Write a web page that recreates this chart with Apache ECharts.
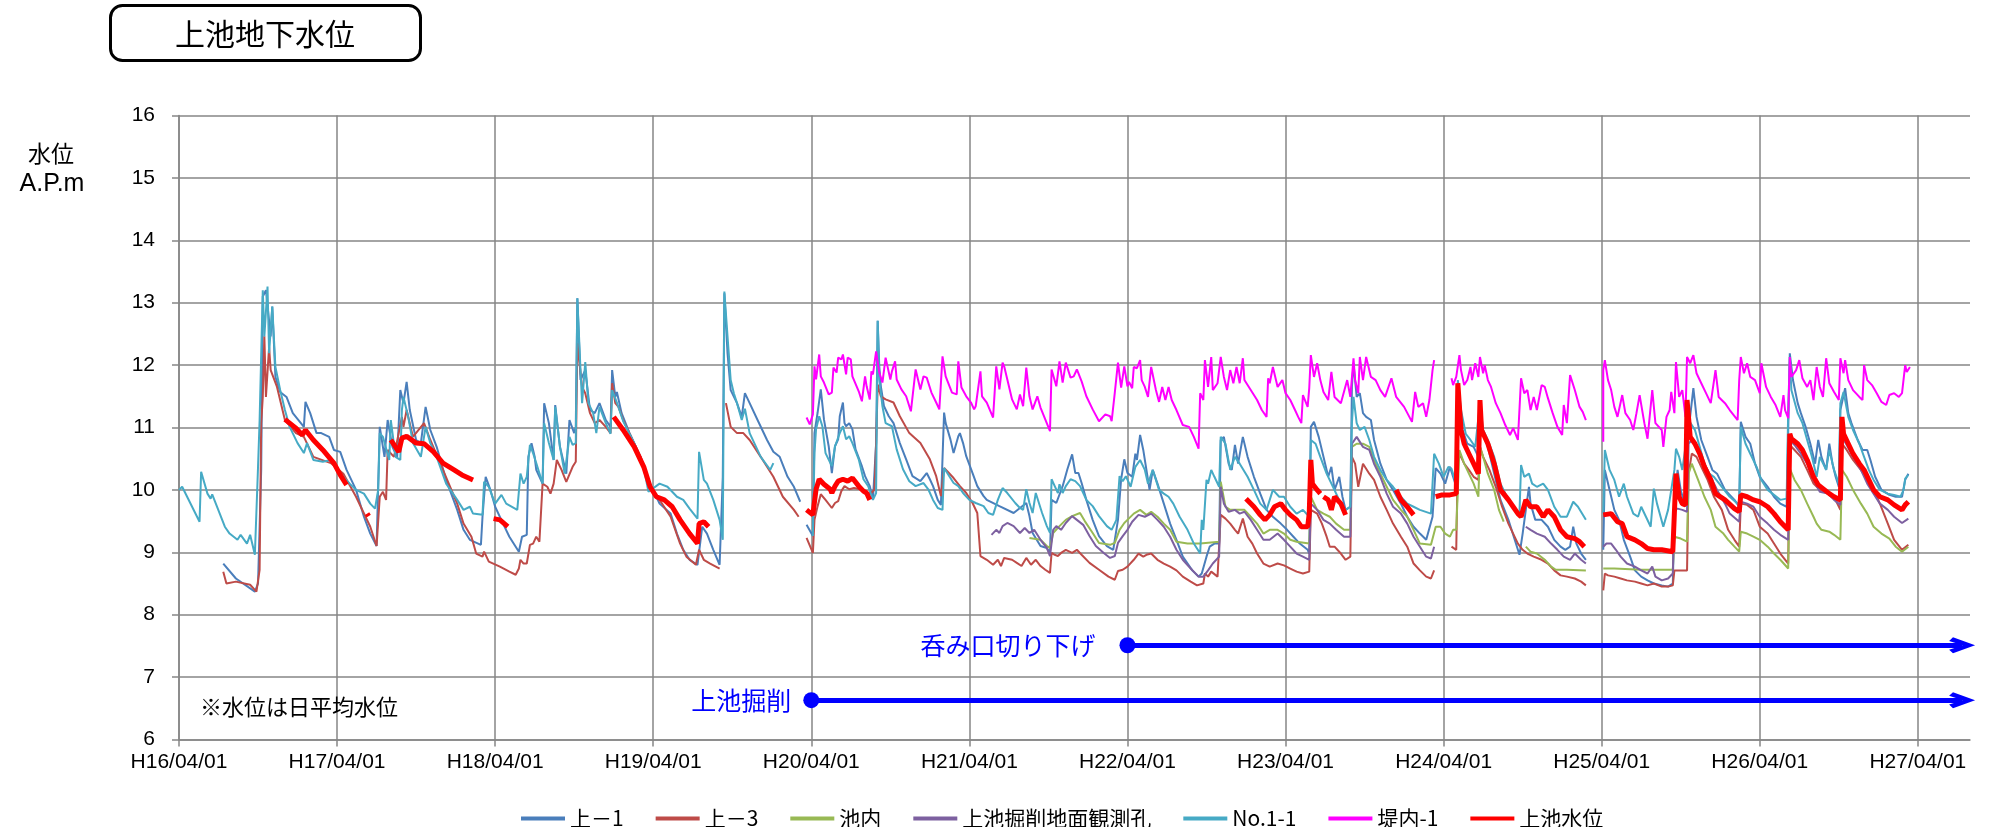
<!DOCTYPE html>
<html>
<head>
<meta charset="utf-8">
<script src="https://cdn.jsdelivr.net/npm/echarts@6/dist/echarts.min.js"></script>
<style>
html, body { margin: 0; padding: 0; background: #fff; }
#chart { width: 1989px; height: 827px; }
</style>
</head>
<body>
<div id="chart"></div>
<script>
// x = years since H16/04/01, y = water level (A.P.m); null = gap in record
var yearTicks = [0, 1, 2, 3, 4, 5, 6, 7, 8, 9, 10, 11];
var yearLabels = ['H16/04/01', 'H17/04/01', 'H18/04/01', 'H19/04/01', 'H20/04/01', 'H21/04/01',
	'H22/04/01', 'H23/04/01', 'H24/04/01', 'H25/04/01', 'H26/04/01', 'H27/04/01'];

//上－1
var ue1 = [[0.28,8.82],[0.36,8.58],[0.48,8.37],[0.50,8.50],[0.52,10.32],[0.53,13.10],[0.55,13.20],[0.58,12.46],[0.59,12.94],[0.61,11.81],[0.64,11.57],[0.68,11.49],[0.72,11.23],[0.79,11.01],[0.80,11.41],[0.83,11.23],[0.87,10.91],[0.90,10.91],[0.95,10.85],[0.98,10.64],[1.02,10.61],[1.06,10.32],[1.12,10.00],[1.17,9.57],[1.21,9.30],[1.25,9.10],[1.27,11.01],[1.30,10.53],[1.32,11.12],[1.35,10.69],[1.38,10.53],[1.40,11.60],[1.42,11.39],[1.44,11.73],[1.46,11.28],[1.50,10.80],[1.53,10.75],[1.56,11.33],[1.59,10.96],[1.63,10.69],[1.69,10.16],[1.76,9.68],[1.80,9.36],[1.84,9.20],[1.91,9.12],[1.92,9.57],[1.94,10.21],[1.97,10.00],[2.00,9.73],[2.05,9.46],[2.09,9.25],[2.15,9.01],[2.17,9.25],[2.20,9.28],[2.21,10.53],[2.23,10.75],[2.25,10.53],[2.26,10.32],[2.30,10.10],[2.31,11.39],[2.34,11.07],[2.37,10.48],[2.38,11.36],[2.41,10.69],[2.45,10.26],[2.47,11.12],[2.50,10.91],[2.51,11.01],[2.52,13.07],[2.54,11.76],[2.57,11.92],[2.60,11.28],[2.63,11.23],[2.66,11.39],[2.70,11.12],[2.73,11.01],[2.74,11.92],[2.76,11.49],[2.77,11.57],[2.80,11.23],[2.85,10.91],[2.92,10.53],[2.98,10.10],[3.04,9.78],[3.11,9.62],[3.15,9.30],[3.19,9.04],[3.23,8.88],[3.28,8.80],[3.31,9.41],[3.34,9.30],[3.38,9.04],[3.42,8.80],[3.44,10.21],[3.45,13.15],[3.47,12.19],[3.49,11.60],[3.53,11.39],[3.56,11.17],[3.58,11.55],[3.61,11.39],[3.66,11.12],[3.72,10.80],[3.76,10.61],[3.80,10.53],[3.85,10.21],[3.89,10.05],[3.93,9.81],null,
	[3.97,9.44],[4.01,9.26],[4.02,10.91],[4.04,11.24],[4.06,11.61],[4.08,11.13],[4.11,10.70],[4.13,10.27],[4.15,10.70],[4.17,10.81],[4.18,11.18],[4.20,11.40],[4.21,11.07],[4.22,11.02],[4.24,11.07],[4.26,10.97],[4.28,10.65],[4.32,10.38],[4.34,10.22],[4.37,10.06],[4.39,9.84],[4.41,10.75],[4.42,12.71],[4.43,11.98],[4.44,11.66],[4.46,11.34],[4.49,11.18],[4.52,11.07],[4.56,10.75],[4.60,10.49],[4.64,10.22],[4.69,10.14],[4.73,10.27],[4.75,10.17],[4.77,10.06],[4.80,9.84],[4.82,9.76],[4.84,11.24],[4.85,11.07],[4.88,10.81],[4.90,10.59],[4.93,10.86],[4.94,10.91],[4.96,10.75],[4.98,10.54],[5.02,10.27],[5.05,10.06],[5.09,9.90],[5.11,9.84],[5.19,9.74],[5.28,9.63],[5.36,9.79],[5.38,9.58],[5.40,9.31],[5.45,9.10],[5.49,9.07],[5.51,8.99],[5.52,9.84],[5.55,9.79],[5.59,10.06],[5.62,10.33],[5.65,10.57],[5.67,10.27],[5.69,10.27],[5.71,10.11],[5.74,9.84],[5.78,9.52],[5.82,9.26],[5.87,9.10],[5.91,9.04],[5.94,9.52],[5.96,10.17],[5.98,10.49],[6.00,10.27],[6.03,10.21],[6.05,10.58],[6.06,10.48],[6.08,10.88],[6.10,10.64],[6.12,10.32],[6.14,10.00],[6.16,10.32],[6.19,10.10],[6.23,9.78],[6.27,9.46],[6.31,9.20],[6.35,8.93],[6.41,8.71],[6.45,8.61],[6.47,8.66],[6.50,8.93],[6.52,9.09],[6.55,9.14],[6.58,9.14],[6.59,10.80],[6.61,10.85],[6.64,10.42],[6.66,10.32],[6.68,10.72],[6.70,10.42],[6.73,10.85],[6.76,10.53],[6.80,10.21],[6.84,9.94],[6.88,9.68],[6.92,9.57],[6.97,9.46],[7.01,9.36],[7.05,9.25],[7.09,9.14],[7.14,9.04],[7.15,8.98],[7.16,11.01],[7.18,11.09],[7.21,10.85],[7.24,10.53],[7.27,10.21],[7.29,10.37],[7.31,10.00],[7.34,10.21],[7.36,9.89],[7.38,9.68],[7.41,9.73],[7.42,11.65],[7.43,12.03],[7.45,11.49],[7.47,11.55],[7.49,11.23],[7.51,11.17],[7.54,11.12],[7.56,10.80],[7.60,10.42],[7.64,10.16],[7.68,10.00],[7.73,9.78],[7.77,9.57],[7.81,9.41],[7.85,9.30],[7.89,9.20],[7.93,9.57],[7.95,10.35],[7.98,10.26],[8.01,10.10],[8.04,10.37],[8.08,10.05],[8.09,11.65],[8.12,10.96],[8.15,10.74],[8.19,10.69],[8.22,10.53],[8.23,11.33],[8.25,10.90],[8.28,10.69],[8.32,10.26],[8.36,9.84],[8.41,9.52],[8.45,9.20],[8.48,8.96],[8.50,9.30],[8.52,9.68],[8.54,10.05],[8.55,9.78],[8.58,9.52],[8.62,9.52],[8.66,9.41],[8.70,9.20],[8.74,9.09],[8.77,9.04],[8.80,9.09],[8.82,9.41],[8.84,9.14],[8.87,8.98],[8.90,8.88],null,
	[9.01,9.04],[9.02,10.32],[9.05,10.00],[9.08,9.68],[9.11,9.52],[9.14,9.20],[9.18,8.93],[9.21,8.71],[9.25,8.61],[9.29,8.55],[9.33,8.50],[9.38,8.47],[9.42,8.45],[9.45,8.50],[9.46,9.68],[9.48,10.32],[9.50,10.00],[9.53,9.73],[9.55,10.96],[9.58,11.63],[9.60,11.17],[9.63,10.80],[9.67,10.53],[9.70,10.32],[9.73,10.26],[9.78,10.00],[9.84,9.84],[9.87,9.73],[9.88,11.09],[9.91,10.85],[9.94,10.74],[9.97,10.42],[10.00,10.21],[10.05,10.05],[10.09,9.89],[10.13,9.78],[10.17,9.73],[10.18,10.96],[10.19,12.19],[10.21,11.76],[10.24,11.39],[10.26,11.23],[10.29,11.01],[10.32,10.74],[10.35,10.42],[10.37,10.80],[10.39,10.53],[10.42,10.32],[10.44,10.74],[10.46,10.42],[10.48,10.21],[10.50,10.05],[10.51,11.28],[10.54,11.63],[10.56,11.23],[10.58,11.07],[10.62,10.80],[10.65,10.64],[10.68,10.64],[10.70,10.48],[10.73,10.21],[10.77,10.00],[10.82,9.92],[10.86,9.89],[10.90,9.89],[10.92,10.16],[10.94,10.26]];

//上－3
var ue3 = [[0.28,8.69],[0.30,8.50],[0.36,8.53],[0.45,8.48],[0.49,8.37],[0.51,8.72],[0.52,11.07],[0.53,11.49],[0.54,12.46],[0.55,11.49],[0.57,12.29],[0.58,11.92],[0.62,11.65],[0.67,11.12],[0.74,10.91],[0.79,10.85],[0.85,10.53],[0.96,10.43],[1.04,10.26],[1.12,9.89],[1.21,9.41],[1.25,9.10],[1.27,9.89],[1.29,9.97],[1.31,9.84],[1.32,10.64],[1.36,10.53],[1.41,11.17],[1.42,11.01],[1.44,11.28],[1.48,10.85],[1.55,11.07],[1.59,10.80],[1.67,10.32],[1.76,9.78],[1.80,9.46],[1.85,9.25],[1.88,8.98],[1.92,8.93],[1.93,9.01],[1.96,8.85],[2.03,8.77],[2.09,8.69],[2.13,8.64],[2.15,8.74],[2.16,8.88],[2.18,8.82],[2.20,8.82],[2.22,9.12],[2.24,9.14],[2.26,9.25],[2.28,9.17],[2.30,10.10],[2.33,10.05],[2.35,9.94],[2.37,10.10],[2.39,10.48],[2.42,10.32],[2.45,10.13],[2.49,10.37],[2.51,10.45],[2.52,12.35],[2.55,11.65],[2.57,11.55],[2.60,11.23],[2.63,11.07],[2.66,11.12],[2.70,11.01],[2.73,10.91],[2.74,11.71],[2.76,11.39],[2.78,11.33],[2.81,11.12],[2.92,10.53],[2.98,10.05],[3.04,9.84],[3.11,9.57],[3.17,9.14],[3.21,8.93],[3.27,8.80],[3.29,9.04],[3.32,8.88],[3.36,8.82],[3.42,8.74],null,
	[3.46,11.39],[3.49,11.01],[3.53,10.91],[3.57,10.91],[3.61,10.80],[3.68,10.53],[3.76,10.21],[3.82,9.89],[3.89,9.68],[3.92,9.57],null,
	[3.97,9.23],[4.01,8.99],[4.02,9.52],[4.04,9.74],[4.06,9.93],[4.09,9.84],[4.13,9.71],[4.15,9.79],[4.17,9.82],[4.19,9.98],[4.21,10.06],[4.24,10.01],[4.27,10.03],[4.31,10.01],[4.35,9.95],[4.38,9.95],[4.40,10.01],[4.41,10.75],[4.42,11.69],[4.44,11.50],[4.47,11.45],[4.52,11.40],[4.56,11.18],[4.62,10.91],[4.69,10.75],[4.75,10.49],[4.79,10.22],[4.82,9.90],[4.84,10.35],[4.86,10.30],[4.90,10.19],[4.94,10.06],[4.98,9.95],[5.02,9.79],[5.05,9.63],[5.07,8.94],[5.11,8.88],[5.15,8.80],[5.18,8.88],[5.20,8.78],[5.22,8.91],[5.27,8.88],[5.30,8.83],[5.33,8.78],[5.36,8.91],[5.39,8.80],[5.42,8.88],[5.45,8.78],[5.48,8.72],[5.51,8.67],[5.52,8.99],[5.54,8.96],[5.56,8.94],[5.58,8.99],[5.61,9.04],[5.65,8.99],[5.68,9.04],[5.71,8.96],[5.76,8.83],[5.82,8.72],[5.88,8.61],[5.92,8.56],[5.94,8.70],[5.97,8.72],[6.00,8.77],[6.04,8.88],[6.07,8.98],[6.10,8.93],[6.12,8.96],[6.15,8.98],[6.19,8.88],[6.23,8.82],[6.27,8.77],[6.31,8.71],[6.35,8.61],[6.40,8.53],[6.44,8.47],[6.48,8.50],[6.49,8.66],[6.51,8.61],[6.53,8.69],[6.57,8.61],[6.58,8.58],[6.59,9.60],[6.62,9.54],[6.65,9.46],[6.68,9.36],[6.70,9.30],[6.73,9.54],[6.76,9.25],[6.79,9.14],[6.82,8.98],[6.86,8.82],[6.90,8.77],[6.95,8.82],[6.99,8.79],[7.03,8.74],[7.07,8.69],[7.11,8.66],[7.15,8.69],[7.16,9.68],[7.20,9.62],[7.23,9.46],[7.26,9.25],[7.28,9.09],[7.31,9.09],[7.35,8.98],[7.38,8.88],[7.41,8.93],[7.42,10.53],[7.44,10.42],[7.46,10.05],[7.49,10.42],[7.53,10.26],[7.56,10.16],[7.60,9.89],[7.64,9.68],[7.68,9.46],[7.73,9.25],[7.77,9.09],[7.81,8.82],[7.85,8.71],[7.89,8.61],[7.92,8.58],[7.94,8.71],null,
	[8.05,9.09],[8.08,9.04],[8.09,10.53],[8.11,10.53],[8.13,10.42],[8.16,10.32],[8.19,10.21],[8.22,10.16],[8.23,10.69],[8.25,10.53],[8.29,10.32],[8.33,10.05],[8.37,9.73],[8.41,9.46],[8.44,9.30],[8.47,9.14],[8.50,9.04],[8.53,8.98],[8.57,8.93],[8.62,8.88],[8.66,8.82],[8.70,8.71],[8.74,8.63],[8.78,8.61],[8.83,8.58],[8.87,8.53],[8.90,8.47],null,
	[9.01,8.39],[9.02,8.66],[9.04,8.63],[9.08,8.61],[9.12,8.58],[9.16,8.55],[9.21,8.53],[9.25,8.50],[9.29,8.47],[9.33,8.50],[9.38,8.45],[9.42,8.45],[9.45,8.47],[9.46,8.71],[9.50,8.71],[9.54,8.71],[9.55,10.26],[9.57,10.58],[9.60,10.53],[9.63,10.37],[9.67,10.16],[9.71,9.89],[9.76,9.68],[9.80,9.36],[9.84,9.20],[9.87,9.09],[9.88,9.78],[9.92,9.76],[9.96,9.68],[10.00,9.41],[10.05,9.30],[10.09,9.14],[10.13,8.98],[10.18,8.82],[10.19,10.72],[10.22,10.64],[10.26,10.53],[10.30,10.32],[10.34,10.10],[10.38,10.00],[10.43,9.94],[10.47,9.89],[10.51,9.68],[10.52,10.74],[10.55,10.64],[10.59,10.48],[10.64,10.32],[10.68,10.16],[10.72,10.00],[10.76,9.78],[10.81,9.46],[10.85,9.20],[10.90,9.04],[10.94,9.12]];

//池内
var ikeUchi = [[5.38,9.23],[5.45,9.20],[5.49,9.10],[5.51,9.07],[5.53,9.31],[5.57,9.42],[5.61,9.52],[5.65,9.58],[5.70,9.63],[5.73,9.50],[5.78,9.31],[5.82,9.15],[5.89,9.12],[5.92,9.15],[5.95,9.36],[5.98,9.47],[6.00,9.52],[6.04,9.62],[6.08,9.68],[6.12,9.60],[6.15,9.65],[6.19,9.57],[6.23,9.46],[6.27,9.36],[6.31,9.17],[6.38,9.14],[6.46,9.14],[6.58,9.17],[6.59,10.13],[6.62,9.73],[6.65,9.68],[6.69,9.68],[6.74,9.68],[6.78,9.57],[6.82,9.46],[6.86,9.30],[6.90,9.36],[6.95,9.36],[6.99,9.30],[7.03,9.20],[7.07,9.17],[7.15,9.14],[7.16,9.89],[7.20,9.68],[7.24,9.62],[7.28,9.57],[7.32,9.46],[7.37,9.36],[7.41,9.36],[7.42,10.69],[7.45,10.74],[7.49,10.74],[7.53,10.69],[7.56,10.48],[7.60,10.26],[7.64,10.05],[7.68,9.84],[7.73,9.68],[7.77,9.57],[7.81,9.36],[7.85,9.14],[7.92,9.12],[7.95,9.41],[7.98,9.41],[8.01,9.30],[8.04,9.25],[8.06,9.36],[8.08,9.36],[8.10,10.64],[8.13,10.42],[8.16,10.26],[8.19,10.10],[8.22,9.89],[8.23,10.69],[8.25,10.53],[8.28,10.26],[8.32,10.00],[8.35,9.68],[8.38,9.49],null,
	[8.52,9.09],[8.55,9.01],[8.59,8.98],[8.64,8.88],[8.68,8.77],[8.71,8.72],[8.78,8.72],[8.90,8.71],null,
	[9.01,8.74],[9.08,8.74],[9.25,8.72],[9.45,8.72],[9.46,9.25],[9.50,9.22],[9.54,9.17],[9.55,10.26],[9.57,10.42],[9.61,10.16],[9.65,9.89],[9.69,9.68],[9.72,9.41],[9.77,9.30],[9.80,9.20],[9.84,9.09],[9.87,9.01],[9.88,9.33],[9.92,9.30],[9.96,9.25],[10.00,9.20],[10.05,9.09],[10.09,8.98],[10.13,8.88],[10.18,8.74],[10.19,10.34],[10.22,10.16],[10.26,10.00],[10.30,9.78],[10.34,9.57],[10.36,9.46],[10.39,9.36],[10.44,9.33],[10.47,9.28],[10.51,9.20],[10.52,10.32],[10.55,10.21],[10.59,10.00],[10.64,9.78],[10.68,9.62],[10.72,9.41],[10.77,9.30],[10.82,9.22],[10.86,9.09],[10.90,9.01],[10.94,9.09]];

//上池掘削地面観測孔
var kussaku = [[5.14,9.28],[5.17,9.36],[5.19,9.31],[5.21,9.42],[5.24,9.47],[5.28,9.42],[5.32,9.31],[5.35,9.39],[5.38,9.31],[5.41,9.36],[5.45,9.20],[5.49,9.07],[5.51,8.94],[5.53,9.36],[5.55,9.42],[5.58,9.36],[5.61,9.47],[5.65,9.58],[5.68,9.52],[5.72,9.44],[5.76,9.26],[5.80,9.10],[5.85,8.99],[5.89,8.91],[5.92,8.94],[5.94,9.15],[5.97,9.26],[6.00,9.36],[6.03,9.49],[6.07,9.60],[6.11,9.57],[6.15,9.62],[6.19,9.52],[6.23,9.41],[6.27,9.25],[6.31,9.04],[6.35,8.88],[6.40,8.74],[6.45,8.61],[6.48,8.61],[6.51,8.71],[6.54,8.82],[6.58,8.93],[6.59,10.05],[6.61,9.78],[6.64,9.65],[6.68,9.68],[6.71,9.62],[6.74,9.65],[6.78,9.52],[6.82,9.36],[6.86,9.20],[6.90,9.20],[6.95,9.30],[6.99,9.20],[7.03,9.09],[7.07,8.98],[7.11,8.93],[7.15,8.88],[7.16,9.78],[7.20,9.68],[7.24,9.52],[7.28,9.46],[7.32,9.36],[7.37,9.25],[7.41,9.25],[7.42,10.74],[7.45,10.85],[7.49,10.69],[7.53,10.64],[7.56,10.42],[7.60,10.21],[7.64,9.94],[7.68,9.73],[7.73,9.62],[7.77,9.46],[7.81,9.25],[7.85,9.09],[7.89,8.93],[7.92,8.90],[7.94,9.09],null,
	[8.52,9.41],[8.55,9.36],[8.59,9.30],[8.64,9.25],[8.68,9.14],[8.72,9.04],[8.76,8.93],[8.80,8.88],[8.83,8.98],[8.87,8.88],[8.90,8.82],null,
	[9.01,9.09],[9.03,9.14],[9.06,9.14],[9.09,9.04],[9.12,8.93],[9.16,8.82],[9.21,8.77],[9.25,8.71],[9.29,8.66],[9.32,8.77],[9.34,8.61],[9.38,8.55],[9.42,8.58],[9.45,8.66],[9.46,9.68],[9.48,9.70],[9.51,9.68],[9.54,9.65],[9.55,10.74],[9.57,10.80],[9.61,10.64],[9.65,10.42],[9.69,10.21],[9.73,10.00],[9.78,9.78],[9.81,9.62],[9.87,9.49],[9.88,9.81],[9.92,9.78],[9.96,9.73],[10.00,9.57],[10.05,9.46],[10.09,9.36],[10.13,9.28],[10.18,9.20],[10.19,10.80],[10.22,10.72],[10.26,10.58],[10.30,10.42],[10.34,10.16],[10.38,9.97],[10.43,9.94],[10.47,9.84],[10.51,9.76],[10.52,10.85],[10.55,10.72],[10.59,10.53],[10.64,10.32],[10.68,10.10],[10.72,9.94],[10.76,9.78],[10.81,9.68],[10.85,9.57],[10.90,9.47],[10.94,9.54]];

//No.1-1
var no11 = [[0.00,10.00],[0.02,10.05],[0.13,9.49],[0.14,10.29],[0.18,9.94],[0.20,9.86],[0.21,9.93],[0.29,9.41],[0.32,9.30],[0.37,9.20],[0.39,9.28],[0.43,9.14],[0.45,9.28],[0.48,8.96],[0.50,10.37],[0.51,11.12],[0.53,13.20],[0.54,12.46],[0.56,13.26],[0.57,12.19],[0.59,12.94],[0.61,11.97],[0.64,11.60],[0.67,11.28],[0.70,11.01],[0.75,10.75],[0.79,10.59],[0.81,10.75],[0.85,10.48],[0.91,10.45],[0.96,10.48],[1.00,10.32],[1.08,10.10],[1.12,10.00],[1.17,9.94],[1.21,9.78],[1.24,9.70],[1.26,10.00],[1.27,10.91],[1.29,10.85],[1.33,10.48],[1.34,11.12],[1.37,10.53],[1.40,10.48],[1.41,11.28],[1.42,11.49],[1.45,11.17],[1.48,10.75],[1.53,10.53],[1.56,11.01],[1.59,10.75],[1.63,10.53],[1.69,10.10],[1.76,9.84],[1.80,9.68],[1.84,9.73],[1.86,9.62],[1.92,9.60],[1.93,10.13],[1.96,10.05],[2.00,9.78],[2.04,9.92],[2.07,9.78],[2.14,9.68],[2.16,10.26],[2.18,10.10],[2.20,10.21],[2.22,10.72],[2.24,10.59],[2.26,10.43],[2.30,10.10],[2.31,11.07],[2.34,10.75],[2.37,10.48],[2.38,11.33],[2.41,10.69],[2.44,10.26],[2.47,10.85],[2.49,10.72],[2.51,10.75],[2.52,13.07],[2.54,11.92],[2.55,11.39],[2.57,12.05],[2.59,11.39],[2.62,11.23],[2.64,10.91],[2.66,11.33],[2.70,11.07],[2.73,10.90],[2.74,11.60],[2.77,11.40],[2.81,11.10],[2.88,10.75],[2.94,10.35],[2.97,9.97],[3.04,10.10],[3.09,10.05],[3.15,9.89],[3.19,9.84],[3.23,9.70],[3.28,9.54],[3.29,10.61],[3.32,10.16],[3.34,10.10],[3.38,9.84],[3.42,9.52],[3.44,9.20],[3.45,13.18],[3.46,13.20],[3.47,12.46],[3.49,11.76],[3.51,11.55],[3.53,11.39],[3.56,11.12],[3.58,11.30],[3.61,10.91],[3.68,10.53],[3.74,10.32],[3.76,10.43],null,
	[4.01,9.26],[4.02,10.59],[4.03,10.97],[4.05,11.18],[4.07,11.02],[4.09,10.59],[4.13,10.38],[4.15,10.70],[4.18,10.91],[4.20,11.02],[4.22,10.81],[4.24,10.86],[4.26,10.75],[4.30,10.49],[4.33,10.17],[4.36,10.06],[4.39,9.84],[4.41,9.95],[4.42,12.71],[4.43,11.77],[4.45,11.34],[4.47,11.07],[4.51,11.02],[4.54,10.65],[4.58,10.33],[4.62,10.14],[4.66,10.06],[4.71,10.11],[4.74,10.01],[4.77,9.84],[4.80,9.71],[4.83,9.68],[4.84,10.35],[4.86,10.27],[4.90,10.11],[4.93,10.06],[4.96,9.95],[5.00,9.84],[5.04,9.79],[5.09,9.74],[5.12,9.63],[5.15,9.60],[5.18,9.84],[5.21,10.03],[5.24,9.95],[5.29,9.79],[5.32,9.71],[5.34,9.68],[5.36,10.01],[5.38,9.79],[5.40,9.63],[5.42,9.95],[5.46,9.63],[5.49,9.42],[5.51,9.31],[5.52,10.17],[5.54,10.06],[5.56,9.95],[5.57,10.09],[5.59,9.95],[5.61,10.06],[5.64,10.17],[5.67,10.14],[5.70,10.06],[5.74,9.84],[5.78,9.74],[5.82,9.58],[5.87,9.42],[5.90,9.36],[5.93,9.52],[5.95,10.22],[5.97,10.14],[5.99,10.22],[6.02,10.05],[6.05,10.37],[6.08,10.48],[6.11,10.32],[6.13,10.10],[6.16,10.32],[6.20,10.00],[6.23,9.94],[6.26,9.89],[6.29,9.78],[6.33,9.57],[6.38,9.36],[6.42,9.14],[6.46,8.98],[6.47,9.52],[6.48,9.36],[6.50,10.16],[6.51,10.10],[6.53,10.32],[6.55,10.21],[6.58,10.05],[6.59,10.85],[6.62,10.74],[6.65,10.32],[6.68,10.53],[6.71,10.42],[6.76,10.21],[6.80,10.00],[6.84,9.78],[6.88,9.68],[6.92,10.00],[6.96,9.89],[6.99,9.89],[7.03,9.73],[7.07,9.62],[7.11,9.68],[7.15,9.57],[7.16,10.80],[7.19,10.74],[7.22,10.53],[7.26,10.26],[7.30,10.05],[7.35,9.78],[7.38,9.68],[7.41,9.73],[7.42,11.07],[7.43,11.49],[7.45,11.07],[7.47,10.96],[7.50,11.01],[7.53,10.80],[7.56,10.53],[7.60,10.32],[7.64,10.16],[7.68,10.05],[7.73,9.89],[7.77,9.78],[7.81,9.73],[7.85,9.68],[7.92,9.62],[7.94,10.58],[7.97,10.42],[8.00,10.21],[8.03,10.37],[8.05,10.34],[8.08,10.10],[8.09,11.76],[8.11,11.28],[8.14,10.90],[8.17,10.80],[8.20,10.69],[8.23,11.39],[8.25,10.96],[8.28,10.80],[8.32,10.53],[8.36,10.10],[8.41,9.84],[8.45,9.68],[8.48,9.62],[8.49,10.40],[8.51,10.21],[8.54,10.26],[8.56,10.10],[8.59,10.05],[8.63,10.10],[8.66,10.00],[8.70,9.73],[8.74,9.57],[8.78,9.57],[8.82,9.81],[8.85,9.73],[8.90,9.52],null,
	[9.01,9.62],[9.02,10.64],[9.05,10.32],[9.08,10.16],[9.11,9.89],[9.14,10.10],[9.16,9.89],[9.20,9.62],[9.23,9.57],[9.25,9.73],[9.28,9.57],[9.31,9.41],[9.33,10.02],[9.35,9.78],[9.39,9.41],[9.42,9.68],[9.44,10.00],[9.46,10.32],[9.47,10.66],[9.49,10.53],[9.51,10.32],[9.53,10.69],[9.55,11.12],[9.59,10.96],[9.62,10.69],[9.65,10.42],[9.68,10.26],[9.71,10.21],[9.76,10.05],[9.81,9.89],[9.86,9.78],[9.87,9.73],[9.88,11.01],[9.91,10.74],[9.94,10.58],[9.98,10.37],[10.01,10.16],[10.05,10.00],[10.09,9.92],[10.13,9.84],[10.17,9.86],[10.18,11.28],[10.19,12.13],[10.20,11.60],[10.24,11.23],[10.27,11.07],[10.30,10.80],[10.33,10.53],[10.36,10.21],[10.38,10.53],[10.42,10.32],[10.44,10.64],[10.47,10.32],[10.50,10.10],[10.51,11.39],[10.53,11.57],[10.56,11.17],[10.59,10.96],[10.63,10.74],[10.66,10.53],[10.69,10.32],[10.72,10.16],[10.76,10.00],[10.81,9.94],[10.85,9.92],[10.89,9.89],[10.91,10.00],[10.92,10.18],[10.94,10.24]];

//堤内-1
var teinai1 = [[3.97,11.16],[3.99,11.05],[4.01,11.21],[4.02,11.98],[4.03,11.77],[4.05,12.17],[4.06,11.82],[4.08,11.72],[4.11,11.53],[4.13,11.56],[4.14,11.96],[4.16,11.88],[4.17,12.12],[4.19,12.09],[4.20,12.17],[4.22,11.85],[4.23,12.12],[4.25,12.09],[4.26,11.82],[4.30,11.58],[4.32,11.42],[4.34,11.82],[4.35,11.66],[4.37,11.45],[4.38,11.90],[4.39,11.85],[4.41,12.22],[4.43,11.88],[4.45,11.72],[4.47,12.12],[4.50,11.77],[4.51,11.90],[4.53,12.06],[4.54,11.77],[4.57,11.61],[4.60,11.50],[4.63,11.26],[4.66,11.93],[4.69,11.61],[4.71,11.82],[4.73,11.80],[4.76,11.56],[4.79,11.40],[4.81,11.29],[4.83,12.14],[4.85,11.82],[4.89,11.56],[4.92,11.53],[4.93,12.06],[4.95,11.64],[4.98,11.50],[5.01,11.40],[5.03,11.29],[5.04,11.34],[5.07,11.90],[5.08,11.50],[5.11,11.40],[5.15,11.16],[5.17,11.98],[5.19,11.61],[5.21,12.04],[5.22,11.98],[5.24,11.77],[5.27,11.45],[5.30,11.29],[5.32,11.53],[5.34,11.34],[5.36,11.96],[5.38,11.50],[5.40,11.29],[5.43,11.50],[5.45,11.32],[5.48,11.13],[5.51,10.94],[5.52,11.93],[5.55,11.66],[5.57,12.06],[5.59,11.72],[5.61,12.04],[5.64,11.80],[5.66,11.82],[5.68,11.93],[5.71,11.74],[5.74,11.50],[5.78,11.29],[5.82,11.10],[5.86,11.21],[5.89,11.18],[5.90,11.10],[5.92,11.56],[5.94,12.04],[5.96,11.64],[5.98,11.98],[6.00,11.66],[6.01,11.73],[6.03,11.63],[6.04,11.97],[6.06,11.95],[6.08,12.08],[6.09,11.76],[6.11,11.65],[6.13,11.49],[6.15,11.97],[6.18,11.60],[6.20,11.41],[6.22,11.65],[6.24,11.44],[6.26,11.65],[6.28,11.44],[6.31,11.28],[6.35,11.04],[6.39,11.01],[6.42,10.85],[6.45,10.66],[6.46,11.55],[6.48,11.44],[6.49,12.08],[6.51,11.65],[6.53,12.13],[6.54,11.60],[6.57,11.71],[6.59,12.13],[6.61,11.81],[6.63,11.60],[6.65,11.92],[6.67,11.71],[6.69,11.97],[6.71,11.71],[6.73,12.11],[6.74,11.76],[6.78,11.60],[6.82,11.44],[6.85,11.28],[6.88,11.17],[6.89,11.79],[6.90,11.71],[6.92,11.97],[6.95,11.65],[6.98,11.76],[7.00,11.55],[7.03,11.44],[7.06,11.28],[7.08,11.17],[7.10,11.07],[7.11,11.52],[7.14,11.33],[7.15,11.63],[7.16,12.16],[7.18,11.81],[7.20,12.03],[7.22,11.76],[7.24,11.57],[7.27,11.44],[7.29,11.89],[7.31,11.49],[7.35,11.39],[7.39,11.76],[7.41,11.49],[7.43,12.11],[7.44,11.76],[7.46,11.55],[7.47,12.13],[7.49,11.76],[7.51,12.13],[7.54,11.81],[7.57,11.76],[7.60,11.60],[7.63,11.49],[7.67,11.79],[7.70,11.49],[7.75,11.33],[7.80,11.09],[7.82,11.57],[7.84,11.33],[7.87,11.39],[7.89,11.17],[7.91,11.44],[7.93,11.92],[7.94,12.08],null,
	[8.05,11.79],[8.06,11.68],[8.08,11.81],[8.10,12.16],[8.11,11.92],[8.13,11.68],[8.15,11.76],[8.17,11.97],[8.18,11.76],[8.20,12.03],[8.22,11.81],[8.23,12.13],[8.25,11.87],[8.26,12.00],[8.28,11.76],[8.30,11.65],[8.33,11.39],[8.36,11.23],[8.39,11.04],[8.42,10.88],[8.44,10.99],[8.47,10.80],[8.49,11.79],[8.51,11.55],[8.53,11.60],[8.55,11.28],[8.57,11.49],[8.59,11.28],[8.62,11.68],[8.64,11.65],[8.66,11.47],[8.69,11.23],[8.72,11.01],[8.75,10.88],[8.76,11.36],[8.78,11.07],[8.80,11.84],[8.83,11.60],[8.86,11.33],[8.88,11.25],[8.90,11.12],null,
	[9.01,10.77],[9.01,11.92],[9.02,12.08],[9.04,11.76],[9.06,11.60],[9.08,11.33],[9.10,11.17],[9.13,11.52],[9.15,11.23],[9.18,11.12],[9.20,10.96],[9.22,11.23],[9.24,11.52],[9.27,11.07],[9.29,10.82],[9.32,11.60],[9.34,11.07],[9.38,10.96],[9.39,10.69],[9.41,11.17],[9.43,11.28],[9.44,11.57],[9.46,11.23],[9.47,12.05],[9.49,11.49],[9.51,11.60],[9.53,11.17],[9.54,12.13],[9.56,12.03],[9.58,12.16],[9.60,11.87],[9.63,11.71],[9.66,11.55],[9.69,11.39],[9.72,11.92],[9.74,11.49],[9.78,11.39],[9.81,11.28],[9.86,11.12],[9.87,11.76],[9.88,12.13],[9.90,11.87],[9.92,12.03],[9.94,11.81],[9.97,11.76],[10.00,11.55],[10.01,12.03],[10.04,11.65],[10.07,11.49],[10.10,11.36],[10.13,11.17],[10.15,11.52],[10.16,11.28],[10.18,11.15],[10.19,12.13],[10.20,11.81],[10.23,11.92],[10.25,12.08],[10.27,11.79],[10.30,11.65],[10.32,11.76],[10.34,11.44],[10.36,11.97],[10.38,11.65],[10.40,11.49],[10.42,12.11],[10.44,11.71],[10.47,11.57],[10.50,11.44],[10.51,12.11],[10.53,11.87],[10.54,12.08],[10.56,11.76],[10.59,11.60],[10.63,11.49],[10.65,11.44],[10.66,12.00],[10.68,11.76],[10.71,11.68],[10.74,11.55],[10.77,11.41],[10.80,11.36],[10.82,11.52],[10.85,11.55],[10.88,11.49],[10.90,11.55],[10.92,12.00],[10.93,11.89],[10.95,11.97]];

//上池水位
var ikeLevel = [[0.67,11.13],[0.74,10.99],[0.78,10.88],[0.80,10.96],[0.85,10.80],[0.91,10.64],[0.98,10.43],[1.02,10.24],[1.06,10.08],null,[1.19,9.62],[1.20,9.58],null,
	[1.34,10.80],[1.39,10.61],[1.41,10.83],[1.44,10.86],[1.50,10.75],[1.55,10.74],[1.61,10.61],[1.67,10.43],[1.74,10.32],[1.79,10.24],[1.86,10.16],null,[1.99,9.54],[2.03,9.52],[2.08,9.41],null,
	[2.75,11.17],[2.81,10.96],[2.88,10.69],[2.94,10.37],[2.98,10.05],[3.02,9.89],[3.07,9.84],[3.12,9.73],[3.17,9.52],[3.23,9.30],[3.28,9.14],[3.29,9.46],[3.32,9.49],[3.35,9.41],null,
	[3.97,9.68],[4.01,9.60],[4.03,10.01],[4.05,10.17],[4.08,10.09],[4.12,10.01],[4.13,9.95],[4.15,10.06],[4.17,10.14],[4.20,10.17],[4.23,10.14],[4.26,10.19],[4.30,10.06],[4.33,9.98],[4.35,9.95],[4.37,9.84],null,
	[6.75,9.86],[6.80,9.73],[6.84,9.60],[6.87,9.52],[6.90,9.60],[6.93,9.73],[6.97,9.78],[7.00,9.68],[7.03,9.60],[7.07,9.52],[7.10,9.41],[7.14,9.41],[7.15,9.62],[7.16,10.48],[7.17,10.10],[7.20,10.00],[7.22,9.94],null,
	[7.24,9.89],[7.27,9.84],[7.29,9.68],[7.31,9.89],[7.35,9.78],[7.38,9.60],null,[7.70,10.00],[7.73,9.84],[7.77,9.73],[7.81,9.60],null,
	[7.95,9.89],[7.99,9.92],[8.04,9.92],[8.08,9.94],[8.09,11.71],[8.11,10.96],[8.13,10.74],[8.16,10.58],[8.19,10.42],[8.22,10.26],[8.23,11.44],[8.24,10.96],[8.28,10.74],[8.32,10.42],[8.36,10.00],[8.41,9.84],[8.44,9.73],[8.47,9.62],[8.49,9.57],[8.52,9.84],[8.55,9.73],[8.59,9.73],[8.63,9.57],[8.66,9.68],[8.70,9.57],[8.74,9.36],[8.78,9.25],[8.83,9.22],[8.86,9.17],[8.89,9.09],null,
	[9.01,9.60],[9.06,9.62],[9.10,9.49],[9.13,9.46],[9.16,9.25],[9.21,9.20],[9.25,9.14],[9.29,9.06],[9.33,9.04],[9.38,9.04],[9.45,9.01],[9.47,10.26],[9.49,9.89],[9.51,9.78],[9.53,9.76],[9.54,11.44],[9.56,10.85],[9.59,10.74],[9.62,10.58],[9.65,10.37],[9.69,10.16],[9.72,9.94],[9.78,9.84],[9.84,9.70],[9.87,9.65],[9.88,9.92],[9.92,9.89],[9.96,9.84],[10.00,9.81],[10.05,9.73],[10.09,9.62],[10.13,9.49],[10.18,9.36],[10.19,10.90],[10.20,10.82],[10.24,10.74],[10.27,10.64],[10.30,10.48],[10.34,10.21],[10.37,10.08],[10.41,10.00],[10.44,9.94],[10.47,9.89],[10.51,9.84],[10.52,11.17],[10.53,10.90],[10.56,10.74],[10.59,10.58],[10.63,10.42],[10.66,10.32],[10.69,10.16],[10.72,10.00],[10.76,9.89],[10.81,9.84],[10.85,9.76],[10.90,9.68],[10.92,9.76],[10.94,9.81]];

// 上池掘削 / 呑み口切り下げ の開始時期
var kussakuStart = [4, 6.63];
var nomikuchiStart = [6, 7.51];
var arrowEndX = 11.28;

var gridColor = '#868686';
var jpFont = '"Noto Sans CJK JP", sans-serif';
var numFont = '"Liberation Sans", Arial, sans-serif';

function gap(arr) {
	return arr.map(function(p) { return p ? p : ['-', '-']; });
}

function lineSeries(name, data, color, width) {
	return {
		name: name,
		type: 'line',
		data: gap(data),
		showSymbol: false,
		symbol: 'none',
		connectNulls: false,
		lineStyle: { color: color, width: width },
		itemStyle: { color: color },
		emphasis: { disabled: true }
	};
}

var chart = echarts.init(document.getElementById('chart'));
chart.setOption({
	animation: false,
	grid: { left: 179, right: 19, top: 115.5, bottom: 87.5 },
	legend: {
		left: 516,
		top: 803,
		icon: 'rect',
		itemWidth: 44,
		itemHeight: 4,
		itemGap: 32,
		textStyle: { fontSize: 21, fontFamily: jpFont, color: '#000' },
		data: ['上－1', '上－3', '池内', '上池掘削地面観測孔', 'No.1-1', '堤内-1', '上池水位']
	},
	xAxis: {
		type: 'value',
		min: 0,
		max: 11.33,
		axisLine: { show: true, onZero: false, lineStyle: { color: gridColor, width: 1.5 } },
		axisTick: { show: true, length: 7, customValues: yearTicks, lineStyle: { color: gridColor, width: 1.5 } },
		axisLabel: {
			customValues: yearTicks,
			margin: 12,
			color: '#000',
			fontSize: 21,
			fontFamily: numFont,
			formatter: function(v) { return yearLabels[Math.round(v)]; }
		},
		splitLine: { show: true, lineStyle: { color: gridColor, width: 1.5 } }
	},
	yAxis: {
		type: 'value',
		min: 6,
		max: 16,
		interval: 1,
		axisLine: { show: true, lineStyle: { color: gridColor, width: 1.5 } },
		axisTick: { show: true, length: 7, lineStyle: { color: gridColor, width: 1.5 } },
		axisLabel: { margin: 24, color: '#000', fontSize: 21, fontFamily: numFont },
		splitLine: { show: true, lineStyle: { color: gridColor, width: 1.5 } }
	},
	graphic: [
		{ type: 'rect', shape: { x: 110.5, y: 5.5, width: 310, height: 55, r: 12 },
			style: { fill: '#fff', stroke: '#000', lineWidth: 3 }, z: 100 },
		{ type: 'text', x: 265, y: 34, z: 101,
			style: { text: '上池地下水位', font: '30px ' + jpFont, fill: '#000', align: 'center', verticalAlign: 'middle' } },
		{ type: 'text', x: 51, y: 153, z: 101,
			style: { text: '水位', font: '23px ' + jpFont, fill: '#000', align: 'center', verticalAlign: 'middle' } },
		{ type: 'text', x: 52, y: 184, z: 101,
			style: { text: 'A.P.m', font: '25px ' + numFont, fill: '#000', align: 'center', verticalAlign: 'middle' } },
		{ type: 'text', x: 200, y: 707, z: 101,
			style: { text: '※水位は日平均水位', font: '22px ' + jpFont, fill: '#000', align: 'left', verticalAlign: 'middle' } }
	],
	series: [
		lineSeries('上－1', ue1, '#4A7EBB', 2),
		lineSeries('上－3', ue3, '#BE4B48', 2),
		lineSeries('池内', ikeUchi, '#98B954', 2),
		lineSeries('上池掘削地面観測孔', kussaku, '#7D60A0', 2),
		lineSeries('No.1-1', no11, '#46AAC5', 2),
		lineSeries('堤内-1', teinai1, '#FF00FF', 2),
		lineSeries('上池水位', ikeLevel, '#FF0000', 5),
		{
			name: 'arrows',
			type: 'line',
			data: [],
			clip: false,
			markLine: {
				silent: true,
				animation: false,
				symbol: ['circle', 'path://M0,17 L10,0 L20,17 L15.5,20 L10,9.5 L4.5,20 Z'],
				symbolSize: [16, 26],
				lineStyle: { color: '#0000FF', width: 5, type: 'solid' },
				label: {
					show: true,
					position: 'start',
					distance: 20,
					formatter: '{b}',
					color: '#0000FF',
					fontSize: 25,
					fontFamily: jpFont
				},
				emphasis: { disabled: true },
				data: [
					[{ name: '上池掘削', coord: kussakuStart }, { coord: [arrowEndX, kussakuStart[1]] }],
					[{ name: '呑み口切り下げ', coord: nomikuchiStart, label: { distance: 32 } },
						{ coord: [arrowEndX, nomikuchiStart[1]] }]
				]
			}
		}
	]
});
</script>
</body>
</html>
